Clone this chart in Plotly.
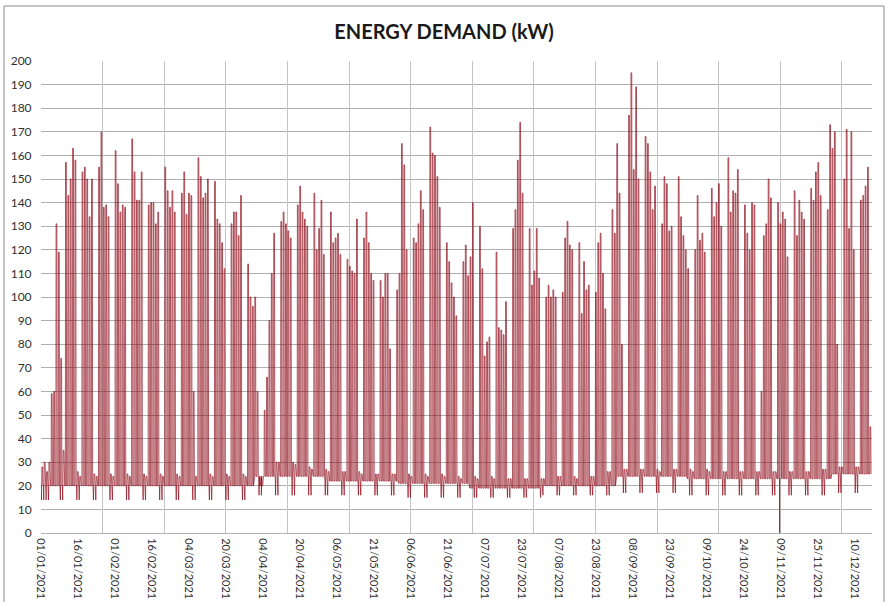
import plotly.graph_objects as go
from datetime import datetime, timedelta

# Daily peak demand (kW), one value per day
jan_peak = [28, 30, 26, 30, 59, 60, 131, 119, 74, 35,
            157, 143, 150, 163, 158, 26, 24,
            153, 155, 150, 134, 150, 25, 24,
            155, 170, 138, 139, 134, 25, 24]
feb_peak = [162, 148, 136, 139, 138, 25, 24,
            167, 153, 141, 141, 153, 25, 24,
            139, 140, 140, 131, 136, 25, 24,
            155, 145, 138, 145, 136, 25, 24]
mar_peak = [144, 153, 135, 144, 143, 60, 24,
            159, 151, 142, 144, 150, 25, 24,
            149, 133, 131, 123, 112, 25, 24,
            131, 136, 136, 126, 143, 25, 24,
            114, 100, 96]
apr_peak = [100, 60, 20, 20,
            52, 66, 90, 110, 127, 30, 30,
            132, 136, 131, 128, 125, 30, 29,
            139, 147, 136, 133, 130, 28, 27,
            144, 120, 129, 141, 118]
may_peak = [27, 26,
            136, 123, 125, 127, 118, 26, 26,
            116, 113, 111, 110, 133, 26, 25,
            125, 136, 123, 110, 107, 25, 25,
            107, 100, 110, 110, 78, 25, 25,
            103]
jun_peak = [110, 165, 156, 120, 25, 24,
            125, 123, 131, 145, 137, 25, 24,
            172, 161, 160, 151, 138, 25, 24,
            123, 115, 106, 100, 92, 24, 23,
            115, 122, 109]
jul_peak = [117, 140, 24, 23,
            130, 112, 75, 81, 83, 24, 23,
            119, 87, 86, 84, 98, 23, 23,
            129, 137, 158, 174, 144, 23, 23,
            129, 105, 111, 129, 108, 23]
aug_peak = [23,
            100, 105, 100, 103, 100, 24, 24,
            102, 125, 132, 122, 120, 24, 23,
            123, 93, 115, 103, 105, 24, 24,
            102, 123, 127, 110, 95, 26, 26,
            137, 127]
sep_peak = [165, 144, 80, 27, 27,
            177, 195, 154, 189, 150, 27, 27,
            168, 165, 153, 137, 147, 27, 26,
            131, 151, 148, 128, 130, 27, 27,
            151, 134, 126, 120]
oct_peak = [112, 27, 26,
            120, 143, 124, 127, 119, 27, 26,
            146, 134, 140, 148, 130, 26, 26,
            159, 136, 145, 144, 154, 26, 26,
            139, 127, 120, 140, 139, 26, 26]
nov_peak = [60, 126, 131, 150, 142, 26, 26,
            140, 131, 136, 133, 117, 26, 26,
            145, 126, 141, 136, 133, 26, 26,
            146, 141, 153, 157, 143, 27, 27,
            137, 173]
dec_peak = [163, 170, 80, 28, 28,
            150, 171, 129, 170, 120, 28, 28,
            141, 143, 147, 155, 45]

# Night-time base load and weekend minimum per month (kW)
month_base = [20, 20, 20, 24, 22, 21, 19, 20, 24, 23, 23, 25]
month_low = [14, 14, 14, 16, 16, 15, 15, 16, 17, 16, 16, 17]
# Short outage readings
outage_day = ["2021-11-09"]
outage_kw = [0]

# Hours of the day at which each daily reading is placed
hour_night, hour_low, hour_ramp, hour_on, hour_off, hour_end = 0, 4, 7, 9, 17, 20

month_peaks = [jan_peak, feb_peak, mar_peak, apr_peak, may_peak, jun_peak,
               jul_peak, aug_peak, sep_peak, oct_peak, nov_peak, dec_peak]

start = datetime(2021, 1, 1)
xs, ys, yb = [], [], []
d = 0
for m, peaks in enumerate(month_peaks):
    base = month_base[m]
    for p in peaks:
        day = start + timedelta(days=d)
        weekend = day.weekday() >= 5
        low = month_low[m] if (weekend or p < 40) else base
        pts = [(hour_night, base), (hour_low, low), (hour_ramp, base),
               (hour_on, p), (hour_off, p), (hour_end, base)]
        key = day.strftime("%Y-%m-%d")
        if key in outage_day:
            pts.insert(2, (5, outage_kw[outage_day.index(key)]))
        for h, v in pts:
            xs.append(day + timedelta(hours=h))
            ys.append(v)
            yb.append(base)
        d += 1

x_end = start + timedelta(hours=8430)
HOUR_MS = 3600 * 1000

fig = go.Figure()
# base load (reference for the light daytime shading)
fig.add_trace(go.Scatter(x=xs, y=yb, mode="lines", line=dict(width=0, color="rgba(0,0,0,0)"),
                         showlegend=False, hoverinfo="skip"))
fig.add_trace(go.Scatter(
    x=xs, y=ys, mode="lines",
    line=dict(color="rgba(135,0,15,0.92)", width=0.7),
    fill="tonexty", fillcolor="rgba(235,150,155,0.16)",
    showlegend=False, hoverinfo="skip"))
# carrier for the secondary grid axis
fig.add_trace(go.Scatter(x=[start], y=[None], xaxis="x2", mode="lines",
                         showlegend=False, hoverinfo="skip"))

font_family = "Lato, 'Open Sans', sans-serif"
fig.update_layout(
    width=888, height=602,
    paper_bgcolor="white", plot_bgcolor="white",
    margin=dict(l=41, r=16, t=61, b=69, autoexpand=False),
    title=dict(text="<b>ENERGY DEMAND (kW)</b>", x=0.5, xref="container",
               y=1 - 32 / 602, yref="container", yanchor="middle", xanchor="center",
               font=dict(family=font_family, size=20, color="#1a1a1a")),
    font=dict(family=font_family, size=12, color="#303030"),
    xaxis=dict(type="date", range=[start, x_end],
               tick0="2021-01-01", dtick=375 * HOUR_MS, tickformat="%d/%m/%Y",
               tickangle=90, showgrid=False, showline=True, linecolor="#b4b4b4",
               linewidth=1, ticks="outside", ticklen=2, tickcolor="rgba(0,0,0,0)",
               tickfont=dict(size=11, color="#303030"), zeroline=False),
    xaxis2=dict(type="date", range=[start, x_end], overlaying="x", anchor="y",
                tick0="2021-01-01", dtick=625 * HOUR_MS, showgrid=True,
                gridcolor="#c4c4c4", gridwidth=1, showticklabels=False, ticks=""),
    yaxis=dict(range=[0, 200], dtick=10, showgrid=True, gridcolor="#b0b0b0",
               gridwidth=1, zeroline=False, showline=False, ticks="outside",
               ticklen=6, tickcolor="rgba(0,0,0,0)",
               tickfont=dict(size=12, color="#303030")),
    shapes=[dict(type="rect", xref="paper", yref="paper",
                 x0=(4 - 41) / 831, x1=(884 - 41) / 831,
                 y0=(533 - 610) / 472, y1=(533 - 6) / 472,
                 line=dict(color="#8c8c8c", width=1), fillcolor="rgba(0,0,0,0)",
                 layer="below")],
)

fig.write_html("out.html", config={"displayModeBar": False},
               post_script="document.body.style.margin='0px';")
